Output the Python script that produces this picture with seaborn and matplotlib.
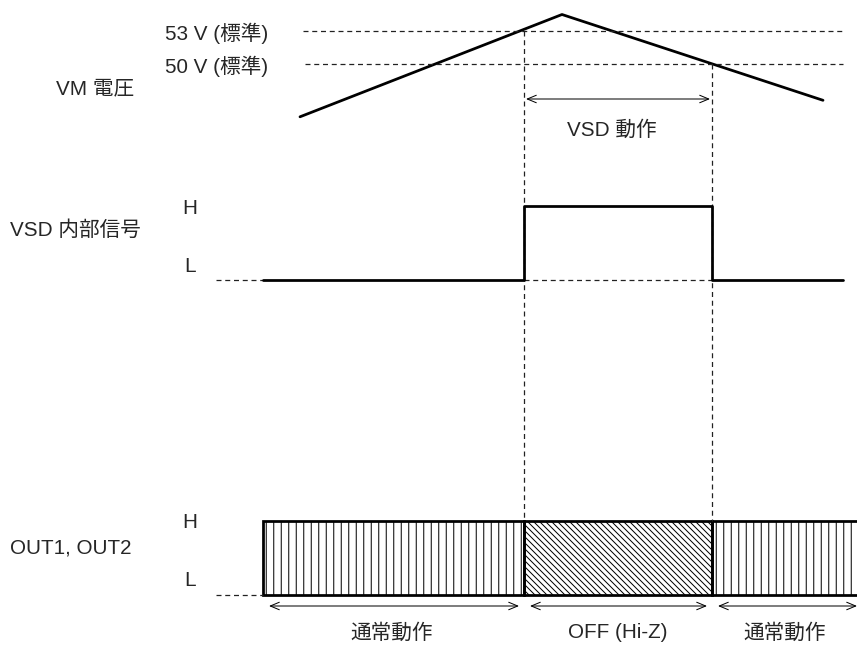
import matplotlib
matplotlib.use("Agg")
import matplotlib.pyplot as plt
import seaborn as sns
import pandas as pd
from matplotlib.patches import Rectangle

sns.set_theme(style="white")
plt.rcParams['font.family'] = ['Liberation Sans', 'Noto Sans CJK JP', 'DejaVu Sans']
plt.rcParams['hatch.linewidth'] = 0.8

# -------------------------
# Data (time in px-like units across the diagram)
# -------------------------
t_rise = 524   # VM crosses 53 V -> VSD on
t_fall = 712   # VM falls below 50 V -> VSD off

vm_time = [300, 562, 823]
vm_volt = [45.2, 54.5, 46.7]
th_volt = [53, 50]
th_labels = ["53 V (標準)", "50 V (標準)"]
th_start = [303, 305]

vsd_time = [263, 524, 524, 712, 712, 843]
vsd_level = [0, 0, 1, 1, 0, 0]

out_start = [263, 524, 712]
out_end = [524, 712, 862]
out_state = ["通常動作", "OFF (Hi-Z)", "通常動作"]
out_hatch = ["||", "\\" * 5, "||"]

# vertical layout of each trace (pixel rows)
VM_Y53, VM_PX_PER_V = 31, 11.0
VSD_L, VSD_H = 280, 206
OUT_H, OUT_L = 521, 595
FS = 16.5


def vm_y(v):
    return VM_Y53 + (53 - v) * VM_PX_PER_V


fig = plt.figure(figsize=(857 / 90, 646 / 90), dpi=90)
ax = fig.add_axes([0, 0, 1, 1])
ax.set_xlim(0, 857)
ax.set_ylim(646, 0)
ax.axis("off")

dash = dict(color="#222222", lw=1.0, linestyle=(0, (4, 3)))

# -------------------------
# VM voltage
# -------------------------
vm_df = pd.DataFrame({"t": vm_time, "y": [vm_y(v) for v in vm_volt]})
sns.lineplot(data=vm_df, x="t", y="y", sort=False, estimator=None,
             color="black", lw=2.2, ax=ax)
for v, lab, x0 in zip(th_volt, th_labels, th_start):
    ax.hlines(vm_y(v), x0, 843, **dash)
    ax.text(165, vm_y(v) + 2, lab, fontsize=FS, va="center", ha="left")
ax.text(56, 89, "VM 電圧", fontsize=FS, va="center", ha="left")

# guide lines down through the diagram
ax.vlines(t_rise, vm_y(53), OUT_H, **dash)
ax.vlines(t_fall, vm_y(50), OUT_H, **dash)

ax.annotate("", xy=(t_rise + 2, 99), xytext=(t_fall - 2, 99),
            arrowprops=dict(arrowstyle="<->,head_length=0.6,head_width=0.25",
                            lw=0.8, color="black", shrinkA=0, shrinkB=0))
ax.text(612, 130, "VSD 動作", fontsize=FS, va="center", ha="center")

# -------------------------
# VSD internal signal
# -------------------------
ax.hlines(VSD_L, 216, vsd_time[0], **dash)
ax.hlines(VSD_L, t_rise, t_fall, **dash)
vsd_df = pd.DataFrame({"t": vsd_time,
                       "y": [VSD_H if s else VSD_L for s in vsd_level]})
sns.lineplot(data=vsd_df, x="t", y="y", sort=False, estimator=None,
             color="black", lw=2.2, ax=ax)
ax.text(190, VSD_H + 2, "H", fontsize=FS, va="center", ha="center")
ax.text(190, VSD_L - 14, "L", fontsize=FS, va="center", ha="center")
ax.text(10, 230, "VSD 内部信号", fontsize=FS, va="center", ha="left")

# -------------------------
# OUT1, OUT2
# -------------------------
ax.hlines(OUT_L, 216, out_start[0], **dash)
for x0, x1, state, h in zip(out_start, out_end, out_state, out_hatch):
    ax.add_patch(Rectangle((x0, OUT_H), x1 - x0, OUT_L - OUT_H, fill=False,
                           hatch=h, edgecolor="black", lw=2.2))
    ax.annotate("", xy=(x0 + 6, 606), xytext=(x1 - 5, 606),
                arrowprops=dict(arrowstyle="<->,head_length=0.6,head_width=0.25",
                                lw=0.8, color="black", shrinkA=0, shrinkB=0))
    xc = (x0 + min(x1, 857)) / 2
    ax.text(xc + (-2 if x0 == 263 else 0), 633, state, fontsize=FS,
            va="center", ha="center")

ax.text(190, OUT_H + 1, "H", fontsize=FS, va="center", ha="center")
ax.text(190, OUT_L - 14, "L", fontsize=FS, va="center", ha="center")
ax.text(10, 548, "OUT1, OUT2", fontsize=FS, va="center", ha="left")

fig.savefig("out.png", dpi=90)
